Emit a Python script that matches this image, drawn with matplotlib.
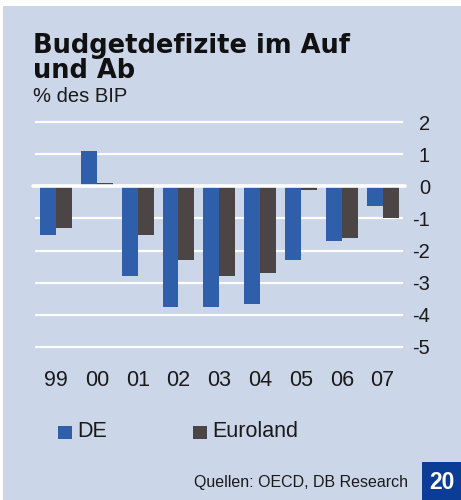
import matplotlib
matplotlib.use("Agg")
import matplotlib.pyplot as plt
from matplotlib.patches import Rectangle
import numpy as np

# data (% des BIP)
years = ["99", "00", "01", "02", "03", "04", "05", "06", "07"]
de = [-1.5, 1.1, -2.8, -3.75, -3.75, -3.65, -2.3, -1.7, -0.6]
euroland = [-1.3, 0.1, -1.5, -2.3, -2.8, -2.7, -0.1, -1.6, -1.0]
yticks = [2, 1, 0, -1, -2, -3, -4, -5]

bg = "#cbd6e8"
c_de = "#2f5fab"
c_eu = "#4b4645"
W, H = 461, 500

plt.rcParams['font.family'] = ['Liberation Sans', 'DejaVu Sans']

fig = plt.figure(figsize=(W / 100, H / 100), dpi=100, facecolor="white")
fig.patches.append(Rectangle((3 / W, 0), 458 / W, 494 / H, transform=fig.transFigure,
                             facecolor=bg, edgecolor="none", zorder=-5))

# axes placed in pixel terms
x0, x1 = 35, 403
ytop, ybot = 115.6, 353.4
ax = fig.add_axes([x0 / W, 1 - ybot / H, (x1 - x0) / W, (ybot - ytop) / H])
ax.set_zorder(2)
ax.set_facecolor("none")
for s in ax.spines.values():
    s.set_visible(False)

x = np.arange(len(years))
bw = 0.39
ax.bar(x - bw / 2, de, bw, color=c_de, zorder=2)
ax.bar(x + bw / 2, euroland, bw, color=c_eu, zorder=2)

for v in yticks:
    if v != 0:
        ax.axhline(v, color="white", lw=1.6, zorder=1)
ax.plot([-0.56, 8.55], [0, 0], color="white", lw=2.6, solid_capstyle="round",
        zorder=3, clip_on=False)

ax.set_xlim(-0.515, 8.5)
ax.set_ylim(-5.2, 2.2)
ax.set_xticks(x)
ax.set_xticklabels(years, fontsize=15.5, color="#1a1a1a")
ax.yaxis.tick_right()
ax.set_yticks(yticks)
ax.set_yticklabels([str(v) for v in yticks], fontsize=14.5, color="#1a1a1a")
ax.tick_params(axis="y", length=0, pad=19.5)
ax.tick_params(axis="x", length=0, pad=12)
for lab in ax.get_yticklabels():
    lab.set_horizontalalignment("right")

# titles
fig.text(33 / W, 1 - 53 / H, "Budgetdefizite im Auf", fontsize=18.5, fontweight="heavy",
         family=["DejaVu Sans"], color="#111111", va="baseline")
fig.text(33 / W, 1 - 78.5 / H, "und Ab", fontsize=18.5, fontweight="heavy",
         family=["DejaVu Sans"], color="#111111", va="baseline")
fig.text(33 / W, 1 - 101.5 / H, "% des BIP", fontsize=14.5, color="#1a1a1a", va="baseline")

# legend
for px, col, lab in [(58, c_de, "DE"), (193, c_eu, "Euroland")]:
    fig.patches.append(Rectangle((px / W, 1 - 439 / H), 14 / W, 13 / H,
                                 transform=fig.transFigure, facecolor=col, edgecolor="none"))
    fig.text((px + 19) / W, 1 - 431.5 / H, lab, fontsize=15.5, color="#1a1a1a", va="center")

# source and page box
fig.text(408 / W, 1 - 483 / H, "Quellen: OECD, DB Research", fontsize=11.5,
         color="#1a1a1a", ha="right", va="center")
fig.patches.append(Rectangle((422 / W, 0), 39 / W, 38 / H, transform=fig.transFigure,
                             facecolor="#0b3c96", edgecolor="none"))
fig.text(441.5 / W, 1 - 482.5 / H, "20", fontsize=16.5, fontweight="bold", color="white",
         ha="center", va="center")

fig.savefig("out.png", dpi=100, facecolor="white")
